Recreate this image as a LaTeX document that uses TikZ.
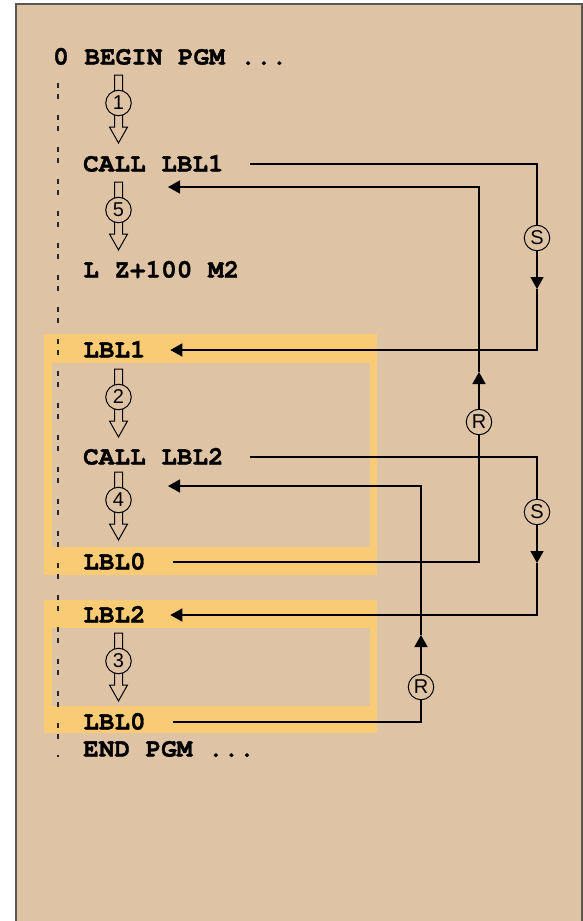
\documentclass[tikz,border=0pt]{standalone}
\usepackage{fontspec}
\setmonofont[BoldFeatures={FakeBold=1.2}]{TeX Gyre Cursor}
\newfontfamily\circfont{Liberation Sans}
\usetikzlibrary{arrows.meta}
\definecolor{bgtan}{HTML}{DFC3A5}
\definecolor{boxyel}{HTML}{F8CB74}
\definecolor{framegray}{HTML}{5A5652}
\newcommand\flowarrow[2]{%
  \draw[line width=1pt, fill=bgtan] (#1-4,#2) -- (#1+4,#2) -- (#1+4,#2+52) -- (#1+9,#2+52) -- (#1,#2+68) -- (#1-9,#2+52) -- (#1-4,#2+52) -- cycle;}
\begin{document}
\begin{tikzpicture}[x=1pt,y=-1pt,
  code/.style={anchor=west, inner sep=0pt, text height=15pt, text depth=0pt, font=\ttfamily\bfseries\fontsize{26}{26}\selectfont},
  numc/.style={circle, draw, line width=1pt, fill=bgtan, minimum size=25.5pt, inner sep=0pt, font=\circfont\fontsize{20}{20}\selectfont},
  conn/.style={line width=1.5pt},
  arrtip/.style={-{Triangle[length=12pt,width=13pt]}}]
\useasboundingbox (0,0) rectangle (583,921);
% background panel
\fill[bgtan] (16,3.5) rectangle (581.5,921);
\draw[framegray, line width=2pt] (16,921) -- (16,3.5) -- (581.5,3.5) -- (581.5,921);
% yellow frames
\fill[boxyel] (44,334) rectangle (377,575);
\fill[bgtan] (52,363) rectangle (370,547);
\fill[boxyel] (44,600) rectangle (377,733);
\fill[bgtan] (52,628) rectangle (370,706);
% dashed margin line
\draw[black!85, line width=2.2pt, dash pattern=on 5pt off 6pt on 5pt off 16pt] (57.7,83) -- (57.7,757);
% code lines
\node[code] (begin) at (53,57) {0 BEGIN PGM ...};
\node[code] (call1) at (83,164) {CALL LBL1};
\node[code] (lz) at (83,270) {L Z+100 M2};
\node[code] (lbl1) at (83,350) {LBL1};
\node[code] (call2) at (83,457) {CALL LBL2};
\node[code] (lbl0a) at (83,562) {LBL0};
\node[code] (lbl2) at (83,615) {LBL2};
\node[code] (lbl0b) at (83,722) {LBL0};
\node[code] (endp) at (83,749) {END PGM ...};
% program flow arrows
\flowarrow{118.5}{75}
\node[numc] (n1) at (118.5,103) {1};
\flowarrow{118.5}{182}
\node[numc] (n5) at (118.5,210) {5};
\flowarrow{118.5}{369}
\node[numc] (n2) at (118.5,397) {2};
\flowarrow{118.5}{472}
\node[numc] (n4) at (118.5,500) {4};
\flowarrow{118.5}{633}
\node[numc] (n3) at (118.5,661) {3};
% jump markers
\node[numc] (s1) at (537,238) {S};
\node[numc] (s2) at (537,512) {S};
\node[numc] (r1) at (479,422) {R};
\node[numc] (r2) at (421,687) {R};
\coordinate (ret1) at (168,187);
\coordinate (ret2) at (168,486);
\coordinate (s1a) at (537,289);
\coordinate (s2a) at (537,563);
\coordinate (r1a) at (479,372);
\coordinate (r2a) at (421,635);
% CALL LBL1 -> LBL1
\draw[conn] ([xshift=26.5pt]call1.east) -| (s1.north);
\draw[conn, arrtip] (s1.south) -- (s1a);
\draw[conn, arrtip] (s1a) |- ([xshift=24.5pt]lbl1.east);
% LBL0 -> back after CALL LBL1
\draw[conn] ([xshift=27.5pt]lbl0a.east) -| (r1.south);
\draw[conn, arrtip] (r1.north) -- (r1a);
\draw[conn, arrtip] (r1a) |- (ret1);
% CALL LBL2 -> LBL2
\draw[conn] ([xshift=26.5pt]call2.east) -| (s2.north);
\draw[conn, arrtip] (s2.south) -- (s2a);
\draw[conn, arrtip] (s2a) |- ([xshift=24.5pt]lbl2.east);
% LBL0 -> back after CALL LBL2
\draw[conn] ([xshift=27.5pt]lbl0b.east) -| (r2.south);
\draw[conn, arrtip] (r2.north) -- (r2a);
\draw[conn, arrtip] (r2a) |- (ret2);
\end{tikzpicture}
\end{document}
